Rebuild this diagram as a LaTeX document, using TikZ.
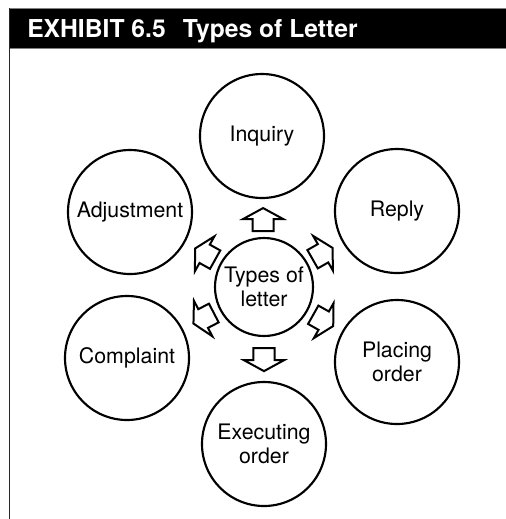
\documentclass[tikz,border=0pt]{standalone}
\usepackage{fontspec}
\setmainfont{TeX Gyre Heros}
\usetikzlibrary{calc}
\begin{document}
\begin{tikzpicture}[x=0.75pt,y=-0.75pt,
  topic/.style={circle,draw,line width=1.6pt,minimum size=93pt,inner sep=0pt,
    align=center,font=\fontsize{16}{18}\selectfont},
  hub/.style={topic,minimum size=73.5pt},
  barrow/.pic={\draw[line width=1.5pt,line join=miter,fill=white]
    (-8.6pt,-7.9pt) -- (0.4pt,-7.9pt) -- (0.4pt,-15pt) -- (8.6pt,0pt)
    -- (0.4pt,15pt) -- (0.4pt,7.9pt) -- (-8.6pt,7.9pt) -- cycle;}]
\useasboundingbox (0,0) rectangle (506,519);
% title bar and frame
\fill[black] (9,8) rectangle (506,48);
\draw[gray,line width=0.6pt] (9,8) -- (506,8) (9,48) -- (506,48);
\draw[black!85,line width=1.1pt] (9.5,8) -- (9.5,519);
\node[anchor=base west,text=white,inner sep=0pt,
  font=\bfseries\fontsize{18.5}{22}\selectfont] (title) at (27,37.5)
  {EXHIBIT 6.5\hspace{0.7em}Types of Letter};
% circles
\node[hub] (c) at (264,287) {Types of\\letter};
\node[topic] (inq) at (262,136) {Inquiry};
\node[topic] (rep) at (397,211) {Reply};
\node[topic] (pla) at (397,362) {Placing\\order};
\node[topic] (exe) at (264,444) {Executing\\order};
\node[topic] (com) at (127,358) {Complaint};
\node[topic] (adj) at (130,212) {Adjustment};
% block arrows pointing outward from the hub
\pic[rotate=90]     at ($(c)!50.6pt!(inq)$) {barrow};
\pic[rotate=29.7]   at ($(c)!50.6pt!(rep)$) {barrow};
\pic[rotate=-29.4]  at ($(c)!51pt!(pla)$) {barrow};
\pic[rotate=-90]    at ($(c)!54.5pt!(exe)$) {barrow};
\pic[rotate=-152.6] at ($(c)!51pt!(com)$) {barrow};
\pic[rotate=150.8]  at ($(c)!50.6pt!(adj)$) {barrow};
\end{tikzpicture}
\end{document}
